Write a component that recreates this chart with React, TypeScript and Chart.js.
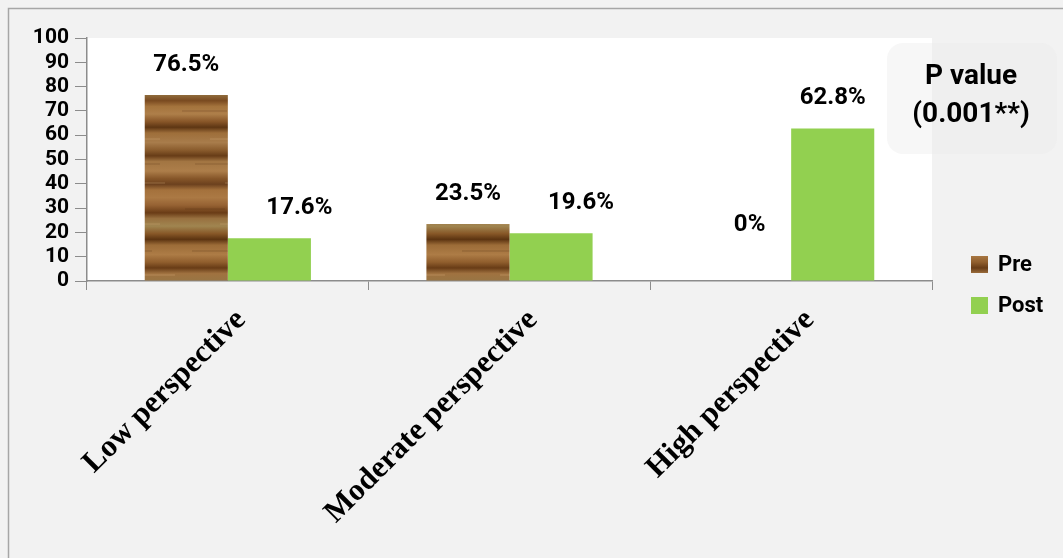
import React, { useEffect, useRef } from "react";
import { Chart, registerables } from "chart.js";

Chart.register(...registerables);

const categories = ["Low perspective", "Moderate perspective", "High perspective"];
const preValues = [76.5, 23.5, 0];
const postValues = [17.6, 19.6, 62.8];
const preLabels = ["76.5%", "23.5%", "0%"];
const postLabels = ["17.6%", "19.6%", "62.8%"];
const seriesNames = ["Pre", "Post"];
const pValueLines = ["P value", "(0.001**)"];
const yMin = 0;
const yMax = 100;
const yStep = 10;

const GREEN = "#92d050";

function makeWoodPattern(): CanvasPattern | string {
  const c = document.createElement("canvas");
  c.width = 90;
  c.height = 190;
  const g = c.getContext("2d");
  if (!g) return "#9a6a3a";
  const grad = g.createLinearGradient(0, 0, 0, c.height);
  const stops: [number, string][] = [
    [0.0, "#a4713c"], [0.04, "#ab7944"], [0.08, "#966233"], [0.12, "#6a3c16"],
    [0.15, "#98703f"], [0.19, "#a08550"], [0.23, "#875727"], [0.26, "#5c3411"],
    [0.29, "#9c6c38"], [0.34, "#ad7c46"], [0.38, "#905e2d"], [0.41, "#683c16"],
    [0.44, "#a07240"], [0.49, "#967645"], [0.53, "#7a4a20"], [0.56, "#a4733c"],
    [0.6, "#ae7f4a"], [0.64, "#885628"], [0.67, "#5e3613"], [0.7, "#9e6e3a"],
    [0.75, "#a87c4b"], [0.79, "#8a5c2d"], [0.82, "#673c17"], [0.85, "#a27542"],
    [0.9, "#ad7e4a"], [0.94, "#865629"], [0.97, "#6c411e"], [1.0, "#a4713c"],
  ];
  for (const [o, col] of stops) grad.addColorStop(o, col);
  g.fillStyle = grad;
  g.fillRect(0, 0, c.width, c.height);
  const streaks: [number, number, number, string][] = [
    [5, 18, 40, "rgba(90,50,20,0.18)"], [40, 33, 30, "rgba(210,170,120,0.18)"],
    [12, 60, 50, "rgba(80,45,20,0.15)"], [50, 84, 35, "rgba(220,180,130,0.18)"],
    [2, 110, 45, "rgba(90,50,25,0.15)"], [30, 138, 40, "rgba(215,175,125,0.18)"],
    [15, 163, 55, "rgba(85,50,20,0.15)"], [45, 182, 30, "rgba(210,170,120,0.18)"],
  ];
  for (const [x, y, w, col] of streaks) {
    g.fillStyle = col;
    g.fillRect(x, y, w, 2);
  }
  const p = g.createPattern(c, "repeat");
  return p || "#9a6a3a";
}

const decorPlugin = {
  id: "decor",
  beforeDraw(chart: any) {
    const { ctx, chartArea, width, height } = chart;
    ctx.save();
    ctx.fillStyle = "#f2f2f2";
    ctx.fillRect(0, 0, width, height);
    ctx.fillStyle = "#ffffff";
    ctx.fillRect(chartArea.left, chartArea.top, chartArea.right - chartArea.left, chartArea.bottom - chartArea.top);
    ctx.strokeStyle = "#a6a6a6";
    ctx.lineWidth = 1.5;
    ctx.beginPath();
    ctx.moveTo(8.5, height);
    ctx.lineTo(8.5, 8.5);
    ctx.lineTo(width, 8.5);
    ctx.stroke();
    ctx.restore();
  },
  beforeDatasetsDraw(chart: any) {
    const { ctx } = chart;
    ctx.save();
    const x = 887, y = 43, w = 170, h = 111, r = 16;
    ctx.fillStyle = "rgba(236,236,236,0.4)";
    ctx.beginPath();
    ctx.moveTo(x + r, y);
    ctx.arcTo(x + w, y, x + w, y + h, r);
    ctx.arcTo(x + w, y + h, x, y + h, r);
    ctx.arcTo(x, y + h, x, y, r);
    ctx.arcTo(x, y, x + w, y, r);
    ctx.closePath();
    ctx.fill();
    ctx.fillStyle = "#000";
    ctx.font = "bold 28px Roboto";
    ctx.textAlign = "center";
    ctx.textBaseline = "middle";
    ctx.fillText(pValueLines[0], 971, 77);
    ctx.fillText(pValueLines[1], 971, 115);
    ctx.restore();
  },
  afterDatasetsDraw(chart: any) {
    const { ctx } = chart;
    ctx.save();
    ctx.fillStyle = "#000";
    ctx.font = "bold 24px Roboto";
    ctx.textAlign = "center";
    ctx.textBaseline = "middle";
    const labelSets = [preLabels, postLabels];
    chart.data.datasets.forEach((ds: any, di: number) => {
      const meta = chart.getDatasetMeta(di);
      meta.data.forEach((bar: any, i: number) => {
        const v = ds.data[i];
        const dy = v === 0 ? 56 : 30;
        const dx = di === 1 && v < 30 ? 30 : 0;
        ctx.fillText(labelSets[di][i], bar.x + dx, bar.y - dy);
      });
    });
    // x category labels, rotated, positioned from the x scale
    const xs = chart.scales.x;
    const labelShift = [19, 29, 24];
    ctx.font = "bold 31px 'Liberation Serif'";
    ctx.textAlign = "right";
    ctx.textBaseline = "alphabetic";
    categories.forEach((lab, i) => {
      const px = xs.getPixelForValue(i);
      ctx.save();
      ctx.translate(px + labelShift[i], xs.top + 40);
      ctx.rotate(-Math.PI / 4);
      ctx.fillText(lab, 0, 0);
      ctx.restore();
    });
    // legend
    ctx.textAlign = "left";
    ctx.textBaseline = "middle";
    ctx.font = "bold 22px Roboto";
    const legendY = [265, 306];
    chart.data.datasets.forEach((ds: any, di: number) => {
      ctx.fillStyle = ds.backgroundColor;
      ctx.fillRect(971, legendY[di] - 9, 17, 17);
      ctx.fillStyle = "#000";
      ctx.fillText(seriesNames[di], 998, legendY[di]);
    });
    ctx.restore();
  },
};

export default function App() {
  const ref = useRef<HTMLCanvasElement | null>(null);
  useEffect(() => {
    document.body.style.margin = "0";
    document.body.style.background = "#f2f2f2";
    if (!ref.current) return;
    const wood = makeWoodPattern();
    const chart = new Chart(ref.current, {
      type: "bar",
      data: {
        labels: categories,
        datasets: [
          { label: seriesNames[0], data: preValues, backgroundColor: wood as any, borderWidth: 0 },
          { label: seriesNames[1], data: postValues, backgroundColor: GREEN, borderWidth: 0 },
        ],
      },
      options: {
        animation: false,
        responsive: false,
        maintainAspectRatio: false,
        layout: { padding: { top: 38, right: 131, left: 0, bottom: 0 } },
        datasets: { bar: { barPercentage: 1, categoryPercentage: 0.59 } },
        plugins: { legend: { display: false }, tooltip: { enabled: false } },
        scales: {
          x: {
            offset: true,
            grid: { display: true, drawOnChartArea: false, offset: true, tickLength: 9, color: "#8c8c8c" },
            border: { display: true, color: "#8c8c8c", width: 1.5 },
            ticks: { display: false },
            afterFit(scale: any) {
              scale.height = 277;
            },
          },
          y: {
            min: yMin,
            max: yMax,
            ticks: {
              stepSize: yStep,
              autoSkip: false,
              padding: 6,
              color: "#000",
              font: { family: "Roboto", weight: "bold", size: 21 },
            },
            grid: { display: true, drawOnChartArea: false, tickLength: 12, color: "#8c8c8c" },
            border: { display: true, color: "#8c8c8c", width: 1.5 },
            afterFit(scale: any) {
              scale.width = 87;
            },
          },
        },
      },
      plugins: [decorPlugin],
    });
    return () => chart.destroy();
  }, []);
  return (
    <div style={{ width: 1063, height: 558 }}>
      <canvas ref={ref} width={1063} height={558} style={{ display: "block", width: 1063, height: 558 }} />
    </div>
  );
}
